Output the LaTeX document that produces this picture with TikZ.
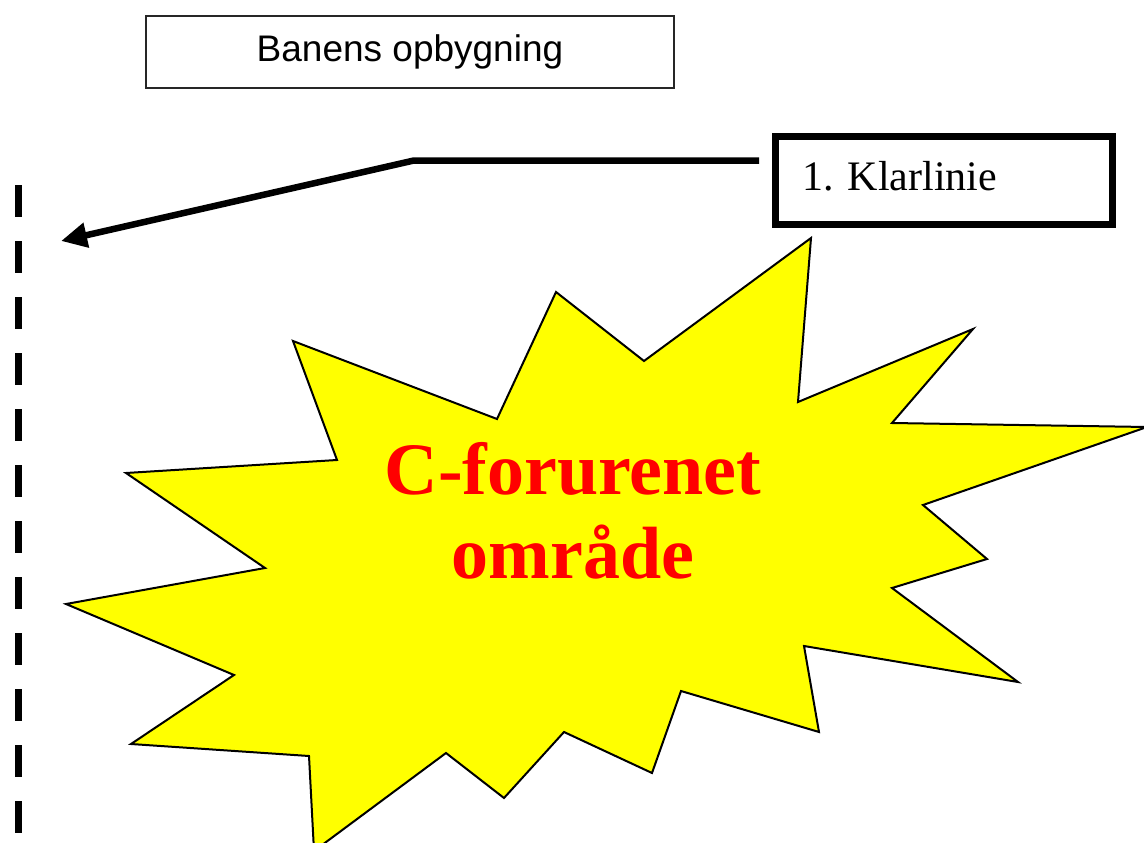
\documentclass[tikz,border=0pt]{standalone}
\usepackage{fontspec}
\setmainfont{Liberation Serif}
\setsansfont{Liberation Sans}
\usetikzlibrary{arrows.meta}
\definecolor{burstyellow}{RGB}{255,255,0}
\definecolor{zonered}{RGB}{255,0,0}

\begin{document}
\begin{tikzpicture}[x=1pt,y=-1pt,
  titlebox/.style={draw=black!85,line width=1.2pt,minimum width=528pt,minimum height=72pt,inner sep=0pt,
    text height=27pt,text depth=7.8pt,font=\sffamily\fontsize{37}{44}\selectfont},
  klarbox/.style={draw,line width=7pt,minimum width=337pt,minimum height=88pt,inner xsep=27pt,
    text width=283pt,align=left,text height=28.7pt,text depth=9pt,font=\fontsize{42}{50}\selectfont},
  burst/.style={fill=burstyellow,draw=black,line width=2pt}]
\useasboundingbox (0,0) rectangle (1144,843);
% dashed line at the left edge
\draw[line width=7.5pt,dash pattern=on 31.7pt off 24.3pt] (18.4,185) -- (18.4,870);
% the star
\draw[burst] (811,238) -- (798,402) -- (973,329) -- (892,423) -- (1147,427) -- (923,505)
  -- (987,559) -- (892,588) -- (1018,682) -- (804,646) -- (819,732) -- (681,691)
  -- (652,773) -- (564,732) -- (504,798) -- (446,753) -- (314,851) -- (309,756)
  -- (131,744) -- (234,675) -- (66,604) -- (265,568) -- (126,473) -- (337,460)
  -- (293,341) -- (497,419) -- (556,292) -- (644,361) -- cycle;
\node[text=zonered,font=\bfseries\fontsize{74}{84}\selectfont,align=center] (zone) at (573,510.5) {C-forurenet\\område};
% boxes
\node[titlebox] (title) at (410,52) {Banens opbygning};
\node[klarbox] (klar) at (944,180.5) {1.\ Klarlinie};
% arrow to the line
\coordinate (bend) at (413,160.7);
\coordinate (tip) at (61,241);
\draw[line width=6.5pt,-{Triangle[length=26pt,width=24pt]},shorten <=13pt] (klar.west |- bend) -- (bend) -- (tip);
\end{tikzpicture}
\end{document}
